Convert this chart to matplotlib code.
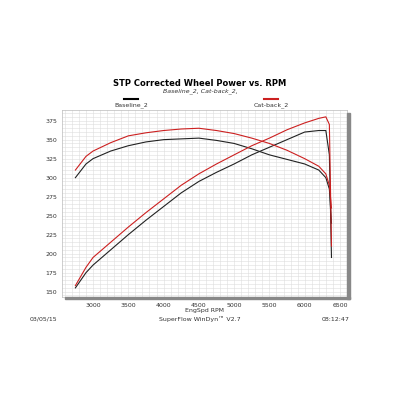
import matplotlib.pyplot as plt
from matplotlib.ticker import MultipleLocator

rpm = [2750, 2900, 3000, 3250, 3500, 3750, 4000, 4250, 4500, 4750, 5000, 5250, 5500, 5750, 6000, 6200, 6300, 6350, 6380]
base_tq = [300, 318, 325, 335, 342, 347, 350, 351, 352, 349, 345, 338, 330, 324, 318, 310, 300, 285, 240]
cat_tq = [310, 328, 335, 346, 355, 359, 362, 364, 365, 362, 358, 352, 345, 336, 325, 315, 305, 290, 260]
base_hp = [155, 175, 185, 205, 225, 244, 262, 280, 295, 307, 318, 330, 340, 350, 360, 362, 362, 330, 195]
cat_hp = [158, 182, 195, 215, 235, 254, 272, 290, 305, 318, 330, 342, 352, 363, 372, 378, 380, 370, 210]

fig = plt.figure(figsize=(4, 4), dpi=100)
ax = fig.add_axes([0.155, 0.2575, 0.7125, 0.4675])
# grey drop-shadow
fig.patches.append(plt.Rectangle((0.8675, 0.2515), 0.008, 0.465, transform=fig.transFigure, color='#888888'))
fig.patches.append(plt.Rectangle((0.163, 0.2515), 0.7125, 0.006, transform=fig.transFigure, color='#888888'))

ax.plot(rpm, base_tq, color='#222222', lw=0.8)
ax.plot(rpm, base_hp, color='#222222', lw=0.8)
ax.plot(rpm, cat_tq, color='#cc2020', lw=0.8)
ax.plot(rpm, cat_hp, color='#cc2020', lw=0.8)

ax.set_xlim(2560, 6600)
ax.set_ylim(143, 389)
ax.xaxis.set_major_locator(MultipleLocator(500))
ax.yaxis.set_major_locator(MultipleLocator(25))
ax.xaxis.set_minor_locator(MultipleLocator(100))
ax.yaxis.set_minor_locator(MultipleLocator(5))
ax.grid(which='both', color='#dddddd', lw=0.4)
ax.tick_params(which='both', length=0, labelsize=4.5, colors='#333333')
ax.tick_params(axis='x', pad=4)
for s in ax.spines.values():
    s.set_color('#bbbbbb')
    s.set_linewidth(0.5)
ax.set_xlabel('EngSpd RPM', fontsize=4.5, labelpad=0.5, color='#333333')

fig.text(0.5, 0.785, 'STP Corrected Wheel Power vs. RPM', ha='center', fontsize=6, weight='bold')
fig.text(0.5, 0.768, 'Baseline_2, Cat-back_2,', ha='center', fontsize=4.5, style='italic', color='#333333')
fig.lines.append(plt.Line2D([0.31, 0.345], [0.752, 0.752], transform=fig.transFigure, color='black', lw=1.5))
fig.text(0.328, 0.735, 'Baseline_2', ha='center', fontsize=4.5, color='#333333')
fig.lines.append(plt.Line2D([0.66, 0.695], [0.752, 0.752], transform=fig.transFigure, color='#cc2020', lw=1.5))
fig.text(0.678, 0.735, 'Cat-back_2', ha='center', fontsize=4.5, color='#333333')

fig.text(0.075, 0.198, '03/05/15', fontsize=4.5, color='#333333')
fig.text(0.5, 0.198, 'SuperFlow WinDyn™ V2.7', ha='center', fontsize=4.5, color='#333333')
fig.text(0.875, 0.198, '08:12:47', ha='right', fontsize=4.5, color='#333333')

fig.savefig('out.png', dpi=100)
